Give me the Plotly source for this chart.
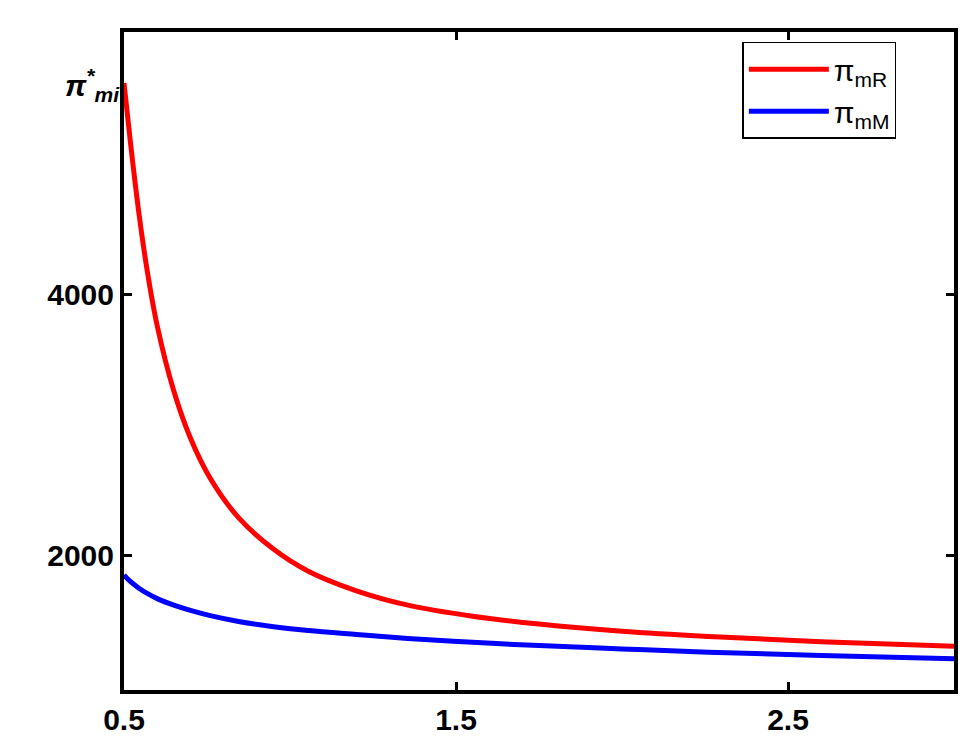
import plotly.graph_objects as go

x_vals = [0.5, 0.52, 0.545, 0.57, 0.6, 0.65, 0.7, 0.76, 0.845, 0.95, 1.055, 1.2, 1.355, 1.55, 1.75, 2.0, 2.26, 2.6, 3.0]
red_vals = [5620, 5150, 4620, 4180, 3760, 3260, 2900, 2590, 2290, 2050, 1880, 1730, 1620, 1535, 1475, 1420, 1380, 1340, 1305]
blue_vals = [1850, 1800, 1750, 1710, 1670, 1620, 1580, 1540, 1495, 1455, 1425, 1395, 1365, 1335, 1310, 1285, 1260, 1235, 1210]

fig = go.Figure()
fig.add_trace(go.Scatter(x=x_vals, y=red_vals, mode="lines", line=dict(color="#ff0000", width=5, shape="spline", smoothing=1.0),
                         name="π<sub>mR</sub>"))
fig.add_trace(go.Scatter(x=x_vals, y=blue_vals, mode="lines", line=dict(color="#0000ff", width=5, shape="spline", smoothing=1.0),
                         name="π<sub>mM</sub>"))

axis_common = dict(showline=True, linecolor="black", linewidth=4, mirror="ticks", ticks="inside",
                   ticklen=8, tickwidth=3, tickcolor="black", showgrid=False, zeroline=False,
                   tickfont=dict(family="Liberation Sans Narrow, Liberation Sans", size=30, color="black", weight="bold"))
fig.update_xaxes(range=[0.5, 3.0], tickvals=[0.5, 1.5, 2.5], ticktext=["0.5", "1.5", "2.5"], **axis_common)
fig.update_yaxes(range=[970, 6010], tickvals=[2000, 4000], ticktext=["2000", "4000"], **axis_common)

fig.add_annotation(xref="paper", yref="paper", x=-0.003, y=0.92, xanchor="right", yanchor="middle",
                   text="<i>π<sup>*</sup><sub>mi</sub></i>", showarrow=False,
                   font=dict(family="Liberation Sans", size=30, color="black", weight="bold"))

fig.update_layout(
    width=971, height=752, plot_bgcolor="white", paper_bgcolor="white",
    margin=dict(l=116, r=25, t=24, b=70),
    legend=dict(x=0.745, y=0.985, xanchor="left", yanchor="top", bgcolor="white",
                bordercolor="black", borderwidth=1.5,
                font=dict(family="Liberation Sans", size=30, color="black"),
                itemwidth=80, tracegroupgap=30),
)
fig.write_html("out.html")
